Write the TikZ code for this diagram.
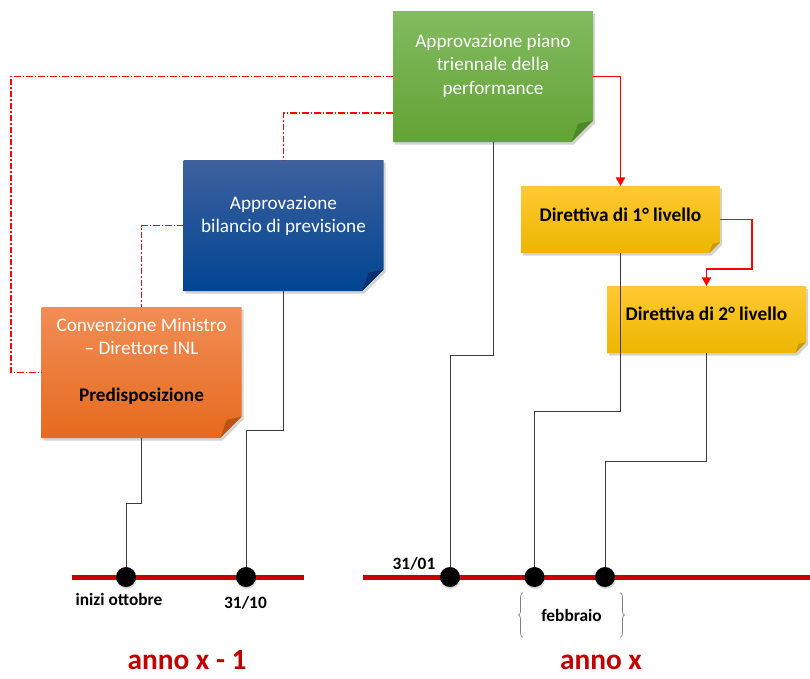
\documentclass[tikz,border=0pt]{standalone}
\usepackage{fontspec}
\setmainfont{Carlito}
\usepackage{tikz}
\usetikzlibrary{positioning,arrows.meta,calc,shadows,decorations.pathreplacing}

\definecolor{greentop}{RGB}{130,187,96}
\definecolor{greenbot}{RGB}{98,163,52}
\definecolor{greenfold}{RGB}{78,135,42}
\definecolor{bluetop}{RGB}{62,97,158}
\definecolor{bluebot}{RGB}{0,68,146}
\definecolor{bluefold}{RGB}{0,48,108}
\definecolor{orangetop}{RGB}{241,141,86}
\definecolor{orangebot}{RGB}{230,106,30}
\definecolor{orangefold}{RGB}{188,84,20}
\definecolor{yellowtop}{RGB}{255,201,52}
\definecolor{yellowbot}{RGB}{236,182,0}
\definecolor{yellowfold}{RGB}{196,154,0}
\definecolor{linkred}{RGB}{255,0,0}
\definecolor{timered}{RGB}{200,0,0}
\definecolor{annored}{RGB}{192,0,0}
\definecolor{stemgray}{RGB}{60,60,60}

\newcommand\notefold[5]{%
  \shade[top color=#2,bottom color=#3,drop shadow={shadow xshift=1.5pt,shadow yshift=-2pt,opacity=.35}]
    (#1.north west) -- (#1.north east) -- ([yshift=#5]#1.south east) -- ([xshift=-#5]#1.south east) -- (#1.south west) -- cycle;
  \fill[#4] ([yshift=#5]#1.south east) -- ([xshift=-.7*#5,yshift=.85*#5]#1.south east) -- ([xshift=-#5]#1.south east) -- cycle;}

\begin{document}
\begin{tikzpicture}[x=0.75pt,y=-0.75pt,
	notebox/.style={inner sep=0pt,outer sep=0pt,minimum width=150pt,minimum height=98.25pt},
	dirbox/.style={inner sep=0pt,outer sep=0pt,minimum width=149.25pt,minimum height=50.25pt},
	notetext/.style={text=white,align=center,font=\fontsize{14.4}{17.6}\selectfont},
	dirtext/.style={text=black,font=\fontsize{14.5}{17.6}\selectfont\bfseries},
	linkdd/.style={linkred,line width=0.8pt,dash pattern=on 5pt off 1.5pt on 1pt off 1.5pt},
	linkarrow/.style={linkred,line width=1.1pt,-{Triangle[width=7pt,length=6.5pt]}},
	stem/.style={stemgray,line width=0.75pt},
	timeline/.style={timered,line width=3.75pt,preaction={draw=black!45,opacity=.35,transform canvas={yshift=-1.5pt}}},
	tick/.style={circle,fill=black,inner sep=0pt,minimum size=15pt,drop shadow={shadow xshift=0.5pt,shadow yshift=-1.5pt,opacity=.3}},
	datelbl/.style={font=\fontsize{13}{15}\selectfont\bfseries},
	yeartitle/.style={text=annored,font=\fontsize{22}{26}\selectfont\bfseries,anchor=base,inner sep=0pt},
	bracegray/.style={gray,line width=0.5pt,decorate,decoration={brace,amplitude=3pt}}]
\useasboundingbox (0,0) rectangle (810,678);

\node[notebox] (piano) at (493,76.5) {};
\notefold{piano}{greentop}{greenbot}{greenfold}{16pt}
\node[notetext] (piano-txt) at (493,65.5) {Approvazione piano\\triennale della\\performance};

\node[notebox] (bilancio) at (283.5,225.5) {};
\notefold{bilancio}{bluetop}{bluebot}{bluefold}{16pt}
\node[notetext] (bilancio-txt) at (283.5,216) {Approvazione\\bilancio di previsione};

\node[notebox] (convenzione) at (141.5,372.5) {};
\notefold{convenzione}{orangetop}{orangebot}{orangefold}{16pt}
\node[notetext] (convenzione-txt) at (141.5,361.5) {Convenzione Ministro\\– Direttore INL\\[17.6pt]\textcolor{black}{\bfseries Predisposizione}};

\node[dirbox] (dir1) at (620.5,219.5) {};
\notefold{dir1}{yellowtop}{yellowbot}{yellowfold}{8pt}
\node[dirtext] (dir1-txt) at (620.5,215) {Direttiva di 1° livello};

\node[dirbox] (dir2) at (706.5,319.5) {};
\notefold{dir2}{yellowtop}{yellowbot}{yellowfold}{8pt}
\node[dirtext] (dir2-txt) at (706.5,314) {Direttiva di 2° livello};

\draw[linkdd] (piano.west) -- ++(-382,0) |- (convenzione.west);
\draw[linkdd] ($(piano.west)+(0,36.5)$) -| (bilancio.north);
\draw[linkdd] (bilancio.west) -| (convenzione.north);
\draw[linkarrow] (piano.east) -| (dir1.north);
\draw[linkarrow] (dir1.east) -- ++(32,0) |- ($(dir2.north)+(0,-17)$) -- (dir2.north);

\coordinate (left-a) at (72,577);
\coordinate (left-b) at (304,577);
\coordinate (right-a) at (363,577);
\coordinate (right-b) at (810,577);
\draw[timeline] (left-a) -- (left-b);
\draw[timeline] (right-a) -- (right-b);

\draw[stem] (convenzione.south) -- ++(0,65) -| (126,577);
\draw[stem] (bilancio.south) -- ++(0,139) -| (246,577);
\draw[stem] (piano.south) -- ++(0,213) -| (450,577);
\draw[stem] (dir1.south) -- ++(0,158) -| (534.5,577);
\draw[stem] (dir2.south) -- ++(0,108) -| (605,577);

\node[tick] (t1) at (126,577) {};
\node[tick] (t2) at (246,577) {};
\node[tick] (t3) at (450,577) {};
\node[tick] (t4) at (534.5,577) {};
\node[tick] (t5) at (605,577) {};

\node[datelbl] (ottobre) at (119,599) {inizi ottobre};
\node[datelbl] (d3110) at (245.5,602.5) {31/10};
\node[datelbl] (d3101) at (414,564) {31/01};
\node[datelbl,minimum width=73pt,minimum height=33pt,inner sep=0pt] (feb) at (571.5,615) {febbraio};
\draw[bracegray] (feb.south west) -- (feb.north west);
\draw[bracegray] (feb.north east) -- (feb.south east);

\node[yeartitle] (anno1) at (187,669) {anno x - 1};
\node[yeartitle] (anno2) at (601,669) {anno x};
\end{tikzpicture}
\end{document}
